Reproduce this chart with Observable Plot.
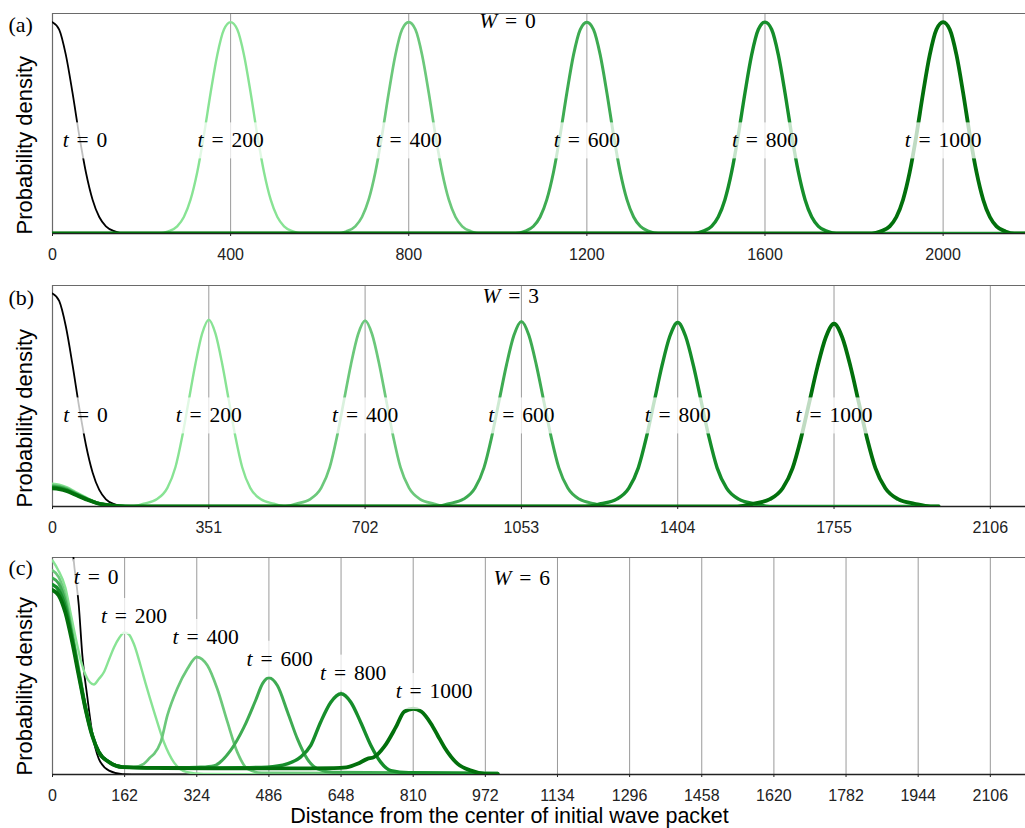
<!DOCTYPE html>
<html><head><meta charset="utf-8">
<script src="https://cdn.jsdelivr.net/npm/d3@7"></script>
<script src="https://cdn.jsdelivr.net/npm/@observablehq/plot@0.6"></script>
<style>
body{margin:0;background:#fff;}
#chart{width:1025px;}
#chart svg{display:block;overflow:visible;}
</style></head><body><div id="chart"></div>
<script>
// ---------- shared series styling ----------
const times = [0, 200, 400, 600, 800, 1000];
const colors = ["#000000", "#88e394", "#6cc87b", "#3eab52", "#168e2b", "#02700c"];
const widths = [1.8, 2.4, 2.7, 3.0, 3.4, 3.8];
const xMax = 2185;

// ---------- panel (a): W = 0 ----------
const ticksA = [0, 400, 800, 1200, 1600, 2000];
const centersA = [0, 400, 800, 1200, 1600, 2000];
const peaksA = [1, 1, 1, 1, 1, 1];
const profOffA = [0, 15, 30, 45, 60, 75, 90, 105, 120, 140, 160];
const profValA = [1, 0.965, 0.845, 0.665, 0.465, 0.29, 0.16, 0.078, 0.034, 0.01, 0];
const labelXA = [73, 400, 800, 1200, 1600, 2000];
const labelYA = [0.44, 0.44, 0.44, 0.44, 0.44, 0.44];

// ---------- panel (b): W = 3 ----------
const ticksB = [0, 351, 702, 1053, 1404, 1755, 2106];
const centersB = [0, 351, 702, 1053, 1404, 1755];
const peaksB = [1, 0.877, 0.873, 0.869, 0.864, 0.858];
const spreadB = [1, 1, 1.06, 1.12, 1.18, 1.24];
const profOffB = [0, 15, 30, 45, 60, 75, 93, 116, 146, 175];
const profValB = [1, 0.925, 0.764, 0.567, 0.371, 0.21, 0.10, 0.04, 0.015, 0];
const locHeightB = [0, 0.107, 0.100, 0.095, 0.090, 0.085];
const locOffB = [0, 15, 33, 50, 78, 100, 123, 150, 175];
const locValB = [1, 0.96, 0.84, 0.66, 0.37, 0.18, 0.08, 0.02, 0];
const endB = 1990;
const labelXB = [74, 351, 702, 1053, 1404, 1755];
const labelYB = [0.427, 0.427, 0.427, 0.427, 0.427, 0.427];

// ---------- panel (c): W = 6 ----------
const ticksC = [0, 162, 324, 486, 648, 810, 972, 1134, 1296, 1458, 1620, 1782, 1944, 2106];
const c0 = [[0,1.8],[20,1.65],[35,1.35],[47,1.0],[59,0.78],[67,0.55],[78,0.36],[89,0.195],[104,0.072],[127,0.018],[157,0.002],[200,0],[1000,0]];
const c200 = [[0,0.986],[12,0.945],[29,0.86],[40,0.75],[52,0.63],[63,0.53],[74,0.46],[84,0.425],[93,0.415],[104,0.44],[115,0.47],[127,0.53],[138,0.585],[150,0.63],[162,0.655],[172,0.645],[183,0.6],[198,0.5],[209,0.42],[228,0.29],[250,0.15],[273,0.055],[300,0.012],[340,0.002],[1000,0]];
const c400 = [[0,0.94],[14,0.91],[29,0.82],[44,0.66],[59,0.49],[74,0.32],[89,0.19],[104,0.105],[127,0.058],[157,0.036],[182,0.034],[205,0.049],[220,0.08],[228,0.095],[243,0.149],[258,0.272],[280,0.395],[303,0.487],[324,0.541],[348,0.502],[370,0.395],[393,0.241],[415,0.103],[438,0.026],[470,0.008],[1000,0.004]];
const c600 = [[0,0.905],[14,0.88],[29,0.795],[44,0.645],[59,0.475],[74,0.31],[89,0.185],[104,0.104],[127,0.058],[157,0.035],[200,0.032],[260,0.031],[300,0.032],[333,0.034],[363,0.041],[400,0.111],[430,0.218],[456,0.341],[472,0.42],[486,0.446],[505,0.41],[528,0.287],[550,0.164],[572,0.072],[595,0.026],[630,0.01],[1000,0.006]];
const c800 = [[0,0.875],[14,0.85],[29,0.77],[44,0.63],[59,0.465],[74,0.305],[89,0.182],[104,0.103],[127,0.057],[157,0.034],[250,0.03],[350,0.03],[420,0.031],[482,0.034],[527,0.049],[557,0.08],[580,0.134],[602,0.241],[625,0.333],[648,0.372],[670,0.333],[692,0.241],[715,0.134],[737,0.057],[760,0.018],[800,0.008],[1000,0.005]];
const c1000 = [[0,0.85],[14,0.825],[29,0.745],[44,0.612],[59,0.456],[74,0.303],[89,0.18],[104,0.103],[127,0.057],[157,0.034],[250,0.03],[400,0.028],[550,0.028],[632,0.029],[660,0.033],[685,0.049],[707,0.072],[722,0.08],[745,0.128],[771,0.218],[790,0.29],[810,0.303],[828,0.29],[850,0.234],[865,0.18],[880,0.126],[910,0.049],[940,0.018],[970,0.003],[1000,0.001]];
const curvesC = [c0, c200, c400, c600, c800, c1000];
const labelXC = [98, 183, 344, 510, 675, 857];
const labelYC = [0.909, 0.73, 0.633, 0.533, 0.469, 0.384];

const wTexts = ["W = 0", "W = 3", "W = 6"];
const wX = [1022, 1029, 1054];
const wY = [1.003, 0.99, 0.903];
const letters = ["(a)", "(b)", "(c)"];
const yLabel = "Probability density";
const xLabel = "Distance from the center of initial wave packet";

// ---------- build curve point lists ----------
function packet(center, peak, offs, vals, spread) {
  const pts = [];
  for (let i = offs.length - 1; i > 0; i--) pts.push([center - offs[i] * spread, peak * vals[i]]);
  for (let i = 0; i < offs.length; i++) pts.push([center + offs[i] * spread, peak * vals[i]]);
  return pts.filter(p => p[0] >= 0);
}
function closeOut(pts, end) {
  const out = pts.slice().sort((a, b) => a[0] - b[0]);
  if (out[0][0] > 0) out.unshift([0, 0]);
  if (out[out.length - 1][0] < end) out.push([end, 0]);
  return out;
}
const curvesA = centersA.map((c, i) => closeOut(packet(c, peaksA[i], profOffA, profValA, 1), xMax));
const curvesB = centersB.map((c, i) => {
  if (i === 0) return closeOut(packet(0, 1, profOffA, profValA, 1), endB);
  const loc = locOffB.map((o, j) => [o, locHeightB[i] * locValB[j]]);
  return closeOut(loc.concat(packet(c, peaksB[i], profOffB, profValB, spreadB[i])), endB);
});

const serifT = "'Liberation Serif', 'Times New Roman', serif";
const serifW = "'Liberation Serif', Times, serif";
const serif = "'Liberation Serif', serif";
const sans = "'Liberation Sans', Arial, Helvetica, sans-serif";

function panel(o) {
  const marks = [
    Plot.ruleX(o.ticks.filter(d => d > 0), {stroke: "#9a9a9a", strokeWidth: 1}),
    Plot.ruleY([o.yMax], {stroke: "#6a6a6a", strokeWidth: 1.2}),
    Plot.ruleX([0], {stroke: "#6a6a6a", strokeWidth: 1.2}),
    Plot.ruleY([0], {stroke: "#222", strokeWidth: 1.3}),
  ];
  o.curves.forEach((pts, i) => {
    marks.push(Plot.line(pts, {x: d => d[0], y: d => d[1], stroke: colors[i], strokeWidth: widths[i], curve: "monotone-x", clip: true}));
  });
  const labs = times.map((t, i) => ({x: o.labelX[i], y: o.labelY[i], text: "t = " + t}));
  marks.push(Plot.text(labs, {x: "x", y: "y", text: "text", fontFamily: serifT, fontSize: 21.5, fill: "#000", lineAnchor: "middle"}));
  marks.push(Plot.text([{x: o.wx, y: o.wy, text: o.w}], {x: "x", y: "y", text: "text", fontFamily: serifW, fontSize: 21.5, fill: "#000", lineAnchor: "middle"}));
  marks.push(Plot.text([o.letter], {text: d => d, frameAnchor: "top-left", lineAnchor: "middle", dx: -44, dy: o.letterDy, textAnchor: "start", fontFamily: serif, fontSize: 22, fill: "#000"}));
  marks.push(Plot.text([yLabel], {text: d => d, frameAnchor: "bottom-left", lineAnchor: "middle", rotate: -90, textAnchor: "start", dx: -27.5, dy: 1, fontFamily: sans, fontSize: 22, fill: "#000"}));
  if (o.xlabel) marks.push(Plot.text([o.xlabel], {text: d => d, frameAnchor: "bottom", lineAnchor: "middle", dx: -29.5, dy: 42, fontFamily: sans, fontSize: 21.5, fill: "#000"}));
  return Plot.plot({
    width: 1025, height: o.height,
    marginLeft: 52, marginRight: 0, marginTop: o.mt, marginBottom: o.mb,
    style: {fontFamily: sans, fontSize: "16px", color: "#222", background: "#fff", overflow: "visible"},
    x: {domain: [0, xMax], ticks: o.ticks, tickFormat: d => String(d), tickSize: 3, tickPadding: 12, label: null},
    y: {domain: [0, o.yMax], axis: null},
    marks
  });
}

const chart = document.getElementById("chart");
const svgs = [
  panel({height: 270, mt: 13, mb: 37, yMax: 1.041, ticks: ticksA, curves: curvesA, labelX: labelXA, labelY: labelYA, w: wTexts[0], wx: wX[0], wy: wY[0], letter: letters[0], letterDy: 11}),
  panel({height: 275, mt: 15, mb: 39, yMax: 1.0376, ticks: ticksB, curves: curvesB, labelX: labelXB, labelY: labelYB, w: wTexts[1], wx: wX[1], wy: wY[1], letter: letters[1], letterDy: 12}),
  panel({height: 283, mt: 12, mb: 54, yMax: 1, ticks: ticksC, curves: curvesC, labelX: labelXC, labelY: labelYC, w: wTexts[2], wx: wX[2], wy: wY[2], letter: letters[2], letterDy: 10.5, xlabel: xLabel})
];
const ns = "http://www.w3.org/2000/svg";
function italicize(t) {
  const s = t.textContent;
  const k = s.indexOf(" ");
  if (k < 0) return;
  t.textContent = "";
  const a = document.createElementNS(ns, "tspan");
  a.setAttribute("font-style", "italic");
  a.textContent = s.slice(0, k);
  const b = document.createElementNS(ns, "tspan");
  b.textContent = s.slice(k);
  t.append(a, b);
  t.setAttribute("word-spacing", "2.5");
}
svgs.forEach(svg => {
  chart.appendChild(svg);
  const groups = Array.from(svg.querySelectorAll("g"));
  const tGroups = groups.filter(g => g.getAttribute("font-family") === serifT);
  const wGroups = groups.filter(g => g.getAttribute("font-family") === serifW);
  wGroups.forEach(g => g.querySelectorAll("text").forEach(italicize));
  tGroups.forEach(g => g.querySelectorAll("text").forEach(t => {
    italicize(t);
    const bb = t.getBBox();
    const r = document.createElementNS(ns, "rect");
    r.setAttribute("x", bb.x - 1);
    r.setAttribute("y", bb.y - 6);
    r.setAttribute("width", bb.width + 2);
    r.setAttribute("height", bb.height + 12);
    r.setAttribute("fill", "#fff");
    r.setAttribute("fill-opacity", "0.75");
    const tr = t.getAttribute("transform");
    if (tr) r.setAttribute("transform", tr);
    t.parentNode.insertBefore(r, t);
  }));
});
</script></body></html>
